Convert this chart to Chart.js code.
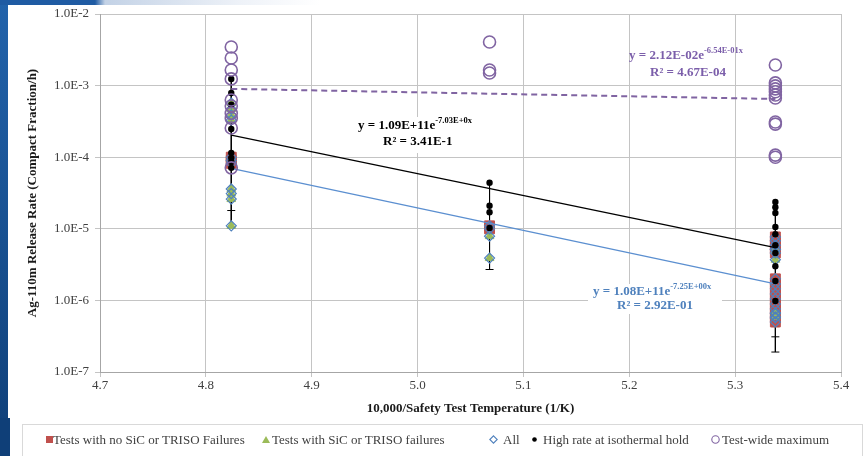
<!DOCTYPE html>
<html>
<head>
<meta charset="utf-8">
<script src="https://cdn.jsdelivr.net/npm/chart.js@4.4.1/dist/chart.umd.min.js"></script>
<style>
  html, body { margin: 0; padding: 0; background: #fff; }
  #wrap { position: relative; width: 864px; height: 456px; overflow: hidden; background: #fff;
          font-family: "Liberation Serif", "Times New Roman", serif; }
  #leftbar { position: absolute; left: 0; top: 0; width: 8px; height: 456px;
             background: linear-gradient(#2263ab, #0f3f78); }
  #leftbar2 { position: absolute; left: 0; top: 418px; width: 10px; height: 38px; background: #0f3f78; }
  #topbar { position: absolute; left: 0; top: 0; width: 864px; height: 5px;
            background: linear-gradient(to right, #1f5ba3 0px, #1f5ba3 95px, #c3d2e6 105px, #eef2f8 240px, #ffffff 320px); }
  canvas { position: absolute; left: 0; top: 0; }
  #legend { position: absolute; left: 22px; top: 424px; width: 841px; height: 40px;
            border: 1px solid #d9d9d9; box-sizing: border-box; }
  .mk { position: absolute; line-height: 0; }
  .mk svg { display: block; }
  .lbl { position: absolute; top: 7px; font-size: 13px; line-height: 16px; color: #404040; white-space: nowrap; }
</style>
</head>
<body>
<div id="wrap">
  <div id="leftbar"></div>
  <div id="leftbar2"></div>
  <div id="topbar"></div>
  <canvas id="chart" width="864" height="456"></canvas>
  <div id="legend"></div>
</div>
<script>
'use strict'

// columns on the x axis (10,000 / safety test temperature)
const testTemps = [4.824, 5.068, 5.338];

// release rates (left, middle, right)
const noFailureRates = [
  [1.0e-4, 9.0e-5, 8.2e-5],
  [1.1e-5, 1.0e-5],
  [7.7e-6, 6.8e-6, 5.9e-6, 5.2e-6, 4.6e-6, 2.0e-6, 1.7e-6, 1.45e-6, 1.23e-6, 1.05e-6, 8.9e-7, 7.6e-7, 6.5e-7, 5.7e-7, 5.0e-7]
];
const failureRates = [
  [5.7e-4, 4.7e-4, 3.9e-4, 3.3e-4, 3.6e-5, 3.1e-5, 2.6e-5, 1.1e-5],
  [7.9e-6, 3.9e-6],
  [5.1e-6, 3.7e-6, 6.7e-7, 5.9e-7]
];
const highRateHold = [
  [1.24e-3, 7.9e-4, 5.4e-4, 2.48e-4, 1.15e-4, 9.8e-5, 8.6e-5, 7.1e-5],
  [4.4e-5, 2.1e-5, 1.7e-5, 1.03e-5],
  [2.37e-5, 2.0e-5, 1.66e-5, 1.06e-5, 8.4e-6, 5.9e-6, 4.6e-6, 3.0e-6, 1.87e-6, 9.8e-7]
];
const testWideMax = [
  [3.46e-3, 2.43e-3, 1.65e-3, 1.24e-3, 6.3e-4, 5.2e-4, 4.1e-4, 3.5e-4, 2.56e-4, 7.1e-5],
  [4.06e-3, 1.65e-3, 1.5e-3],
  [1.94e-3, 1.09e-3, 9.9e-4, 9.0e-4, 8.2e-4, 7.4e-4, 6.7e-4, 3.1e-4, 2.9e-4, 1.07e-4, 1.0e-4]
];

// error bars: top, bottom and caps for each column
const errTop = [1.24e-3, 4.4e-5, 2.37e-5];
const errBottom = [1.1e-5, 2.7e-6, 1.9e-7];
const errCaps = [[1.8e-5], [2.7e-6], [4.3e-7, 3.1e-7, 1.9e-7]];

// trendline values at first and last column
const fitAll = [7.0e-5, 1.7e-6];
const fitHighRate = [2.04e-4, 5.45e-6];
const fitMax = [9.0e-4, 6.5e-4];

const seriesNames = ['Tests with no SiC or TRISO Failures', 'Tests with SiC or TRISO failures', 'All',
  'High rate at isothermal hold', 'Test-wide maximum'];
const xTicks = [4.7, 4.8, 4.9, 5.0, 5.1, 5.2, 5.3, 5.4];
const yTicks = [1e-7, 1e-6, 1e-5, 1e-4, 1e-3, 1e-2];

// fit equations: main part, exponent, r squared
const fitNotes = [
  ['y = 1.09E+11e', '-7.03E+0x', 'R\u00b2 = 3.41E-1'],
  ['y = 2.12E-02e', '-6.54E-01x', 'R\u00b2 = 4.67E-04'],
  ['y = 1.08E+11e', '-7.25E+00x', 'R\u00b2 = 2.92E-01']
];

const RED = '#C0504D', GREEN = '#9BBB59', BLUE = '#4F81BD', PURPLE = '#8064A2';

const toPoints = cols => cols.flatMap((vals, i) => vals.map(v => ({ x: testTemps[i], y: v })));
const ends = vals => [{ x: testTemps[0], y: vals[0] }, { x: testTemps[2], y: vals[1] }];

const datasets = [];

// error bar stems and caps (behind everything)
testTemps.forEach((t, i) => {
  datasets.push({ data: [{ x: t, y: errTop[i] }, { x: t, y: errBottom[i] }], showLine: true,
    borderColor: '#000', borderWidth: 1, pointRadius: 0, order: 9 });
});
datasets.push({ data: toPoints(errCaps), pointStyle: 'line', pointRadius: 4, borderColor: '#000',
  borderWidth: 1, order: 9 });

datasets.push({ label: seriesNames[0], data: toPoints(noFailureRates), pointStyle: 'rect', pointRadius: 7,
  backgroundColor: RED, borderColor: RED, borderWidth: 1, order: 6 });
datasets.push({ label: seriesNames[1], data: toPoints(failureRates), pointStyle: 'triangle', pointRadius: 5,
  backgroundColor: GREEN, borderColor: GREEN, borderWidth: 1, order: 5 });
datasets.push({ label: seriesNames[2], data: toPoints(noFailureRates).concat(toPoints(failureRates)),
  pointStyle: 'rectRot', pointRadius: 5, backgroundColor: 'rgba(0,0,0,0)', borderColor: BLUE, borderWidth: 1.2, order: 4 });

// trendlines
datasets.push({ data: ends(fitAll), showLine: true, pointRadius: 0, borderColor: '#5B8FD0', borderWidth: 1.3, order: 3 });
datasets.push({ data: ends(fitHighRate), showLine: true, pointRadius: 0, borderColor: '#000', borderWidth: 1.3, order: 3 });
datasets.push({ data: ends(fitMax), showLine: true, pointRadius: 0, borderColor: PURPLE, borderWidth: 2,
  borderDash: [6, 4], order: 3 });

datasets.push({ label: seriesNames[3], data: toPoints(highRateHold), pointStyle: 'circle', pointRadius: 3.2,
  backgroundColor: '#000', borderColor: '#000', borderWidth: 0, order: 1 });
datasets.push({ label: seriesNames[4], data: toPoints(testWideMax), pointStyle: 'circle', pointRadius: 6,
  backgroundColor: 'rgba(0,0,0,0)', borderColor: PURPLE, borderWidth: 1.6, order: 0 });

// where the equations sit (pixel spots, like the excel text boxes)
const noteSpots = [
  { x1: 358, y1: 126, x2: 383, y2: 142, color: '#000000', box: [354, 117, 132, 36] },
  { x1: 629, y1: 56, x2: 650, y2: 73, color: '#7B5EAA', box: null },
  { x1: 593, y1: 292, x2: 617, y2: 306, color: '#4F81BD', box: [588, 284, 134, 30] }
];

const fitNotesPlugin = {
  id: 'fitNotes',
  beforeDatasetsDraw(chart) {
    const ctx = chart.ctx;
    ctx.save();
    noteSpots.forEach((s, i) => {
      if (s.box) {
        ctx.fillStyle = '#fff';
        ctx.fillRect(s.box[0], s.box[1], s.box[2], s.box[3]);
      }
      ctx.fillStyle = s.color;
      ctx.textBaseline = 'middle';
      ctx.textAlign = 'left';
      ctx.font = 'bold 13px "Liberation Serif"';
      ctx.fillText(fitNotes[i][0], s.x1, s.y1);
      const w = ctx.measureText(fitNotes[i][0]).width;
      ctx.font = 'bold 8.5px "Liberation Serif"';
      ctx.fillText(fitNotes[i][1], s.x1 + w, s.y1 - 5);
      ctx.font = 'bold 13px "Liberation Serif"';
      ctx.fillText(fitNotes[i][2], s.x2, s.y2);
    });
    ctx.restore();
  }
};

new Chart(document.getElementById('chart'), {
  type: 'scatter',
  data: { datasets: datasets },
  options: {
    responsive: false,
    animation: false,
    events: [],
    layout: { padding: { left: 21, top: 14, right: 23, bottom: 36 } },
    plugins: { legend: { display: false }, tooltip: { enabled: false } },
    scales: {
      x: {
        type: 'linear', min: 4.7, max: 5.4,
        afterBuildTicks: scale => { scale.ticks = xTicks.map(v => ({ value: v })); },
        afterFit: scale => { scale.height = 48; },
        grid: { color: '#c4c4c4', lineWidth: 1, tickLength: 5 },
        border: { color: '#a6a6a6' },
        ticks: { autoSkip: false, padding: 1, color: '#404040', font: { family: 'Liberation Serif', size: 13 },
          callback: v => Number(v).toFixed(1) },
        title: { display: true, text: '10,000/Safety Test Temperature (1/K)', color: '#1a1a1a',
          font: { family: 'Liberation Serif', size: 13, weight: 'bold' } }
      },
      y: {
        type: 'logarithmic', min: 1e-7, max: 1e-2,
        afterBuildTicks: scale => { scale.ticks = yTicks.map(v => ({ value: v, major: true })); },
        afterFit: scale => { scale.width = 79; },
        grid: { color: '#c4c4c4', lineWidth: 1, tickLength: 5 },
        border: { color: '#a6a6a6' },
        ticks: { autoSkip: false, padding: 6, color: '#404040', font: { family: 'Liberation Serif', size: 13 },
          callback: v => Number(v).toExponential(1).toUpperCase() },
        title: { display: true, text: 'Ag-110m Release Rate (Compact Fraction/h)', color: '#1a1a1a',
          font: { family: 'Liberation Serif', size: 13, weight: 'bold' } }
      }
    }
  },
  plugins: [fitNotesPlugin]
});

// html legend, same look as the excel one
const legendMarks = [
  '<svg width="7" height="7"><rect x="0" y="0" width="7" height="7" fill="' + RED + '"/></svg>',
  '<svg width="8" height="7"><polygon points="4,0 8,7 0,7" fill="' + GREEN + '"/></svg>',
  '<svg width="9" height="9"><polygon points="4.5,0.8 8.2,4.5 4.5,8.2 0.8,4.5" fill="none" stroke="' + BLUE + '" stroke-width="1.1"/></svg>',
  '<svg width="5" height="5"><circle cx="2.5" cy="2.5" r="2.3" fill="#000"/></svg>',
  '<svg width="9" height="9"><circle cx="4.5" cy="4.5" r="3.7" fill="none" stroke="' + PURPLE + '" stroke-width="1.1"/></svg>'
];
const legendMarkX = [23, 239, 466, 509, 688];
const legendMarkY = [11, 11, 10, 12, 10];
const legendTextX = [30, 249, 480, 520, 699];
let html = '';
seriesNames.forEach((name, i) => {
  html += '<span class="mk" style="left:' + legendMarkX[i] + 'px;top:' + legendMarkY[i] + 'px">' + legendMarks[i] + '</span>';
  html += '<span class="lbl" style="left:' + legendTextX[i] + 'px">' + name + '</span>';
});
document.getElementById('legend').innerHTML = html;
</script>
</body>
</html>
